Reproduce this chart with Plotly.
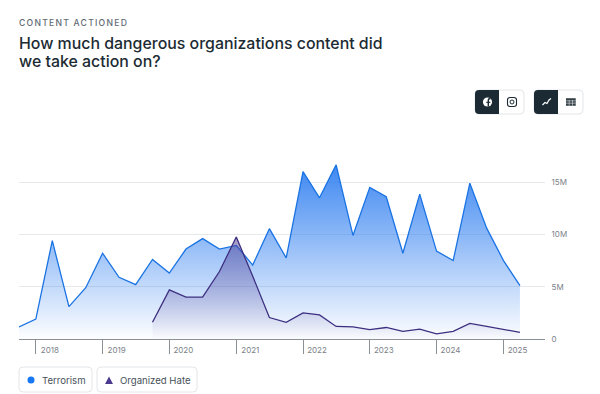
import plotly.graph_objects as go

quarters = ["2017-10-01"] + [f"{y}-{m}-01" for y in range(2018, 2025) for m in ("01", "04", "07", "10")] + ["2025-01-01", "2025-04-01"]
terrorism = [1.15, 1.9, 9.4, 3.1, 4.9, 8.2, 5.9, 5.2, 7.6, 6.3, 8.6, 9.6, 8.6, 8.95, 7.07, 10.55, 7.75,
             16.0, 13.5, 16.65, 9.9, 14.5, 13.6, 8.2, 13.85, 8.4, 7.5, 14.9, 10.6, 7.5, 5.1]
organized_hate = [None] * 8 + [1.6, 4.7, 4.0, 4.0, 6.45, 9.75, 6.0, 2.05, 1.6,
                  2.5, 2.3, 1.2, 1.15, 0.9, 1.1, 0.73, 0.95, 0.5, 0.73, 1.5, 1.2, 0.92, 0.64]
y_ticks = [0, 5, 10, 15]
y_labels = ["0", "5M", "10M", "15M"]
series_names = ["Terrorism", "Organized Hate"]
kicker = "CONTENT ACTIONED"
title_lines = ["How much dangerous organizations content did", "we take action on?"]

W, H = 600, 394
L, R, T, B = 19, 55, 150, 55
PW, PH = W - L - R, H - T - B
px = lambda x: (x - L) / PW
py = lambda y: 1 - (y - T) / PH
BLUE, PURPLE, DARK = "#1a73e3", "#3d2f80", "#1c2b33"


def rr(x0, y0, x1, y1, r=4, left=True, right=True):
    a, b, c, d = px(x0), py(y0), px(x1), py(y1)
    rx, ry = r / PW, r / PH
    s = f"M {a + (rx if left else 0)} {b} L {c - (rx if right else 0)} {b} "
    s += (f"Q {c} {b} {c} {b - ry} L {c} {d + ry} Q {c} {d} {c - rx} {d} " if right else f"L {c} {d} ")
    s += f"L {a + (rx if left else 0)} {d} "
    s += (f"Q {a} {d} {a} {d + ry} L {a} {b - ry} Q {a} {b} {a + rx} {b} Z" if left else f"L {a} {b} Z")
    return s


def pshape(path, fill="rgba(0,0,0,0)", line="rgba(0,0,0,0)", w=1):
    return dict(type="path", xref="paper", yref="paper", path=path, fillcolor=fill,
                line=dict(color=line, width=w), layer="above")


def poly(points, close=False):
    s = " ".join(("M" if i == 0 else "L") + f" {px(x)} {py(y)}" for i, (x, y) in enumerate(points))
    return s + (" Z" if close else "")


def circle(cx, cy, r, fill="rgba(0,0,0,0)", line="rgba(0,0,0,0)", w=1):
    return dict(type="circle", xref="paper", yref="paper", x0=px(cx - r), x1=px(cx + r), y0=py(cy + r), y1=py(cy - r),
                fillcolor=fill, line=dict(color=line, width=w), layer="above")


def text(x, y, s, size, color, font="Inter", weight=None, xanchor="left"):
    return dict(xref="paper", yref="paper", x=px(x), y=py(y), text=s, showarrow=False, xanchor=xanchor, yanchor="middle",
                borderpad=0, font=dict(family=font, size=size, color=color, weight=weight))


fig = go.Figure()
fig.add_trace(go.Scatter(x=quarters, y=terrorism, name=series_names[0], mode="lines", fill="tozeroy",
                         line=dict(color=BLUE, width=1.3),
                         fillgradient=dict(type="vertical", colorscale=[[0, "rgba(45,125,240,0.01)"], [1, "rgba(45,125,240,0.92)"]])))
fig.add_trace(go.Scatter(x=quarters, y=organized_hate, name=series_names[1], mode="lines", fill="tozeroy",
                         line=dict(color=PURPLE, width=1.3),
                         fillgradient=dict(type="vertical", colorscale=[[0, "rgba(70,50,140,0.01)"], [1, "rgba(70,50,140,0.5)"]])))

shapes, ann = [], []
shapes.append(pshape(rr(19, 367, 92, 392), "white", "#e3e6e9"))
shapes.append(pshape(rr(97, 367, 197, 392), "white", "#e3e6e9"))
shapes.append(circle(31, 380, 3.5, "#1877f2"))
shapes.append(pshape(poly([(105, 384), (113, 384), (109, 376.5)], True), "#4b3a8f"))
ann.append(text(41, 380, series_names[0], 9.6, "#465058"))
ann.append(text(119, 380, series_names[1], 9.6, "#465058"))
ann.append(text(27.6, 23, kicker, 8.6, "#606a72", weight=500))
ann.append(text(18, 44, title_lines[0], 15.9, "#1c2b33", weight=500))
ann.append(text(18, 61, title_lines[1], 15.9, "#1c2b33", weight=500))
shapes.append(pshape(rr(475, 90, 524, 114), "white", "#e3e6e9"))
shapes.append(pshape(rr(475, 90, 499, 114, right=False), DARK))
shapes.append(pshape(rr(534, 90, 583, 114), "white", "#e3e6e9"))
shapes.append(pshape(rr(534, 90, 558, 114, right=False), DARK))
shapes.append(circle(487.5, 102, 4.6, "white"))
shapes.append(pshape(poly([(488.3, 106.6), (488.3, 100), (489, 98.8), (490.4, 98.8)]), line=DARK, w=1.4))
shapes.append(pshape(poly([(486.3, 102.3), (490.3, 102.3)]), line=DARK, w=1.2))
shapes.append(pshape(rr(507.5, 97.5, 516.5, 106.5, 2.5), line=DARK, w=1.1))
shapes.append(circle(512, 102, 2, line=DARK, w=1))
shapes.append(pshape(poly([(542.5, 105), (545, 102.5), (547, 103.5), (549, 100), (551, 98.5)]), line="white", w=1.2))
shapes.append(pshape(poly([(566, 98.3), (575.7, 98.3), (575.7, 105.7), (566, 105.7)], True), DARK))
for yy in (100.3, 102, 103.7):
    shapes.append(pshape(poly([(566, yy), (575.7, yy)]), line="white", w=0.5))
for xx in (569.2, 572.5):
    shapes.append(pshape(poly([(xx, 100), (xx, 105.7)]), line="white", w=0.5))

fig.update_layout(
    width=W, height=H, margin=dict(l=L, r=R, t=T, b=B, autoexpand=False), paper_bgcolor="white", plot_bgcolor="white",
    showlegend=False, shapes=shapes, annotations=ann,
    xaxis=dict(type="date", range=["2017-10-01", "2025-08-16"], tick0="2018-01-01", dtick="M12", tickformat="%Y",
               ticks="outside", ticklen=14, tickwidth=1, tickcolor="#8a9096", showgrid=False, showline=True,
               linecolor="#8a9096", linewidth=1, zeroline=False, ticklabelshift=14, ticklabelstandoff=-11,
               tickfont=dict(family="Inter", size=8, color="#7a8188")),
    yaxis=dict(range=[0, 18.07], side="right", tickvals=y_ticks, ticktext=y_labels, showline=False, zeroline=False,
               gridcolor="#e6e8ea", gridwidth=1.3, ticks="outside", ticklen=4, tickcolor="rgba(0,0,0,0)",
               tickfont=dict(family="Inter", size=8, color="#7a8188")),
)
fig.write_html("out.html", config=dict(displayModeBar=False, responsive=False),
               post_script="""document.body.style.margin='0';
document.querySelectorAll('.annotation-text').forEach(function(t){
  if(t.textContent==='CONTENT ACTIONED'){t.style.letterSpacing='1.25px';}
});""")
